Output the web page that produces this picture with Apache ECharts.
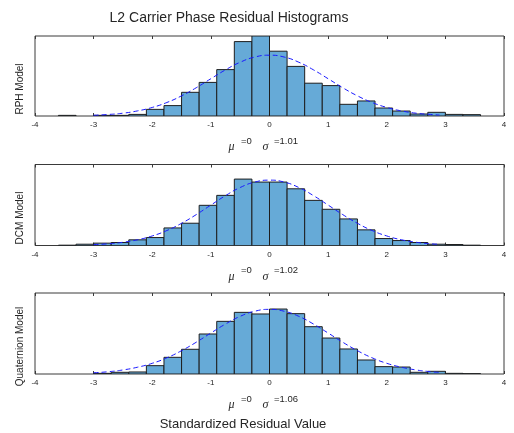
<!DOCTYPE html>
<html>
<head>
<meta charset="utf-8">
<script src="https://cdn.jsdelivr.net/npm/echarts@6/dist/echarts.min.js"></script>
<style>html,body{margin:0;padding:0;background:#fff}#c{width:514px;height:433px}</style>
</head>
<body>
<div id="c"></div>
<script>
// ---- data ----
const binCenters = [-3.45,-3.15,-2.85,-2.55,-2.25,-1.95,-1.65,-1.35,-1.05,-0.75,-0.45,-0.15,
                    0.15,0.45,0.75,1.05,1.35,1.65,1.95,2.25,2.55,2.85,3.15,3.45];
const binWidth = 0.3;
const rphCounts  = [0.8,0,0.8,0.8,2,8.3,13,29.6,42,58,93,100, 81,62,41,38,14.6,18.8,10,6.2,2.5,4.6,2,1.7];
const dcmCounts  = [0.4,1.6,2.9,3.7,7,9.8,21.7,27.5,49.6,61.9,82,78.3, 78.3,70,55.7,44.7,32.8,19.3,8.6,6.1,3.7,1.6,1.2,0.4];
const quatCounts = [0,0,0.8,2.1,2.5,10.3,20.6,30.5,49.4,65,76.1,74.1, 80.2,74.5,58.4,44.4,30.9,17.3,9.1,8.6,2.1,3.3,0.8,0.4];

const fitX = [-3,-2.75,-2.5,-2.25,-2,-1.75,-1.5,-1.25,-1,-0.75,-0.5,-0.25,0,0.25,0.5,0.75,1,1.25,1.5,1.75,2,2.25,2.5,2.75,2.9];
const rphFit  = [0.9,1.9,3.5,6.4,10.7,16.9,25.2,35.3,46.6,57.7,67.2,73.7,76,73.7,67.2,57.7,46.6,35.3,25.2,16.9,10.7,6.4,3.5,1.9,1.2];
const dcmFit  = [1.1,2.1,4.0,7.1,11.8,18.5,27.4,38.1,49.9,61.6,71.6,78.3,80.7,78.3,71.6,61.6,49.9,38.1,27.4,18.5,11.8,7.1,4.0,2.1,1.4];
const quatFit = [1.5,2.8,5.0,8.4,13.2,20.0,28.8,39.2,50.6,61.7,71.2,77.5,79.8,77.5,71.2,61.7,50.6,39.2,28.8,20.0,13.2,8.4,5.0,2.8,1.9];

const xTicks = [-4,-3,-2,-1,0,1,2,3,4];
const panelNames = ['RPH Model','DCM Model','Quaternion Model'];
const sigmas = ['1.01','1.02','1.06'];
const mus = ['0','0','0'];
const title = 'L2 Carrier Phase Residual Histograms';
const xLabel = 'Standardized Residual Value';

// ---- layout ----
const grids = [
  {left:35, right:10, top:36, height:80},
  {left:35, right:10, top:164.5, height:81},
  {left:35, right:10, top:293, height:81}
];
const countsList = [rphCounts, dcmCounts, quatCounts];
const fitList = [rphFit, dcmFit, quatFit];
const txt = '#262626';

const xAxes = [], yAxes = [], series = [], graphics = [];
grids.forEach((g, i) => {
  g.show = true; g.borderColor = '#3a3a3a'; g.borderWidth = 1; g.backgroundColor = '#fff';
  const base = {
    type:'value', gridIndex:i, min:xTicks[0], max:xTicks[xTicks.length-1], interval:1,
    axisLine:{show:false}, splitLine:{show:false},
    axisTick:{show:true, inside:true, length:3, lineStyle:{color:'#3a3a3a'}}
  };
  xAxes.push(Object.assign({}, base, {position:'bottom',
    axisLabel:{show:true, fontSize:8, color:txt, margin:5, fontFamily:'Liberation Sans, Arial'}}));
  xAxes.push(Object.assign({}, base, {position:'top', axisLabel:{show:false}}));
  yAxes.push({type:'value', gridIndex:i, min:0, max:100, axisLine:{show:false}, axisTick:{show:false},
    axisLabel:{show:false}, splitLine:{show:false}});

  const data = binCenters.map((c, k) => [c - binWidth/2, c + binWidth/2, countsList[i][k]]);
  series.push({
    type:'custom', xAxisIndex:2*i, yAxisIndex:i, clip:true,
    data: data, encode:{x:[0,1], y:2},
    renderItem: function(params, api){
      const y = api.value(2);
      if (!(y > 0)) return null;
      const p0 = api.coord([api.value(0), 0]);
      const p1 = api.coord([api.value(1), y]);
      return {type:'rect', shape:{x:p0[0], y:p1[1], width:p1[0]-p0[0], height:p0[1]-p1[1]},
        style:{fill:'#66aad7', stroke:'#1e1e1e', lineWidth:1}};
    }
  });
  series.push({
    type:'line', xAxisIndex:2*i, yAxisIndex:i, smooth:true, showSymbol:false, z:5,
    data: fitX.map((x, k) => [x, fitList[i][k]]),
    lineStyle:{color:'#1a1aff', width:1, type:[5,3]}
  });

  const b = g.top + g.height;
  graphics.push({type:'text', left:228.5, top:b+25, style:{text:'\u03bc', font:'italic 12px "Liberation Serif", serif', fill:txt}});
  graphics.push({type:'text', left:241, top:b+20, style:{text:'=' + mus[i], font:'9.5px "Liberation Sans", Arial', fill:txt}});
  graphics.push({type:'text', left:262.5, top:b+25, style:{text:'\u03c3', font:'italic 12px "Liberation Serif", serif', fill:txt}});
  graphics.push({type:'text', left:274, top:b+20, style:{text:'=' + sigmas[i], font:'9.5px "Liberation Sans", Arial', fill:txt}});
  graphics.push({type:'text', x:20.5, y:g.top + g.height/2 + 13, rotation:Math.PI/2,
    style:{text:panelNames[i], font:'10px "Liberation Sans", Arial', fill:txt, align:'center', verticalAlign:'middle'}});
});

graphics.push({type:'text', x:229, y:18, style:{text:title, font:'14px "Liberation Sans", Arial', fill:txt, align:'center', verticalAlign:'middle'}});
graphics.push({type:'text', x:243, y:424, style:{text:xLabel, font:'13px "Liberation Sans", Arial', fill:txt, align:'center', verticalAlign:'middle'}});

const chart = echarts.init(document.getElementById('c'), null, {renderer:'canvas'});
chart.setOption({
  animation:false,
  backgroundColor:'#fff',
  grid:grids, xAxis:xAxes, yAxis:yAxes, series:series, graphic:graphics
});
</script>
</body>
</html>
